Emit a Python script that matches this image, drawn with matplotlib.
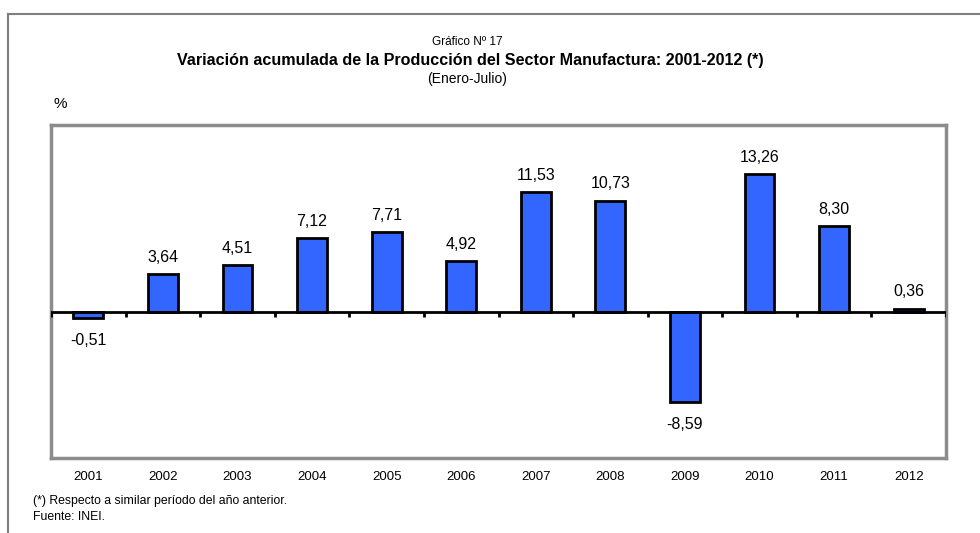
import matplotlib
matplotlib.use("Agg")
import matplotlib.pyplot as plt
from matplotlib.lines import Line2D
import numpy as np

years = ["2001", "2002", "2003", "2004", "2005", "2006",
         "2007", "2008", "2009", "2010", "2011", "2012"]
values = [-0.51, 3.64, 4.51, 7.12, 7.71, 4.92,
          11.53, 10.73, -8.59, 13.26, 8.30, 0.36]
value_labels = ["-0,51", "3,64", "4,51", "7,12", "7,71", "4,92",
                "11,53", "10,73", "-8,59", "13,26", "8,30", "0,36"]

NARROW = ["Liberation Sans Narrow", "Liberation Sans", "DejaVu Sans"]
REG = ["Liberation Sans", "DejaVu Sans"]
BAR_COLOR = "#3366ff"
W, H = 980, 533

fig = plt.figure(figsize=(9.8, 5.33), dpi=100)
ax = fig.add_axes([51 / W, 1 - 458 / H, (946 - 51) / W, (458 - 125) / H])

x = np.arange(len(years))
ax.bar(x, values, width=0.4, color=BAR_COLOR, edgecolor="black", linewidth=2, zorder=3)
ax.set_xlim(-0.5, len(years) - 0.5)
ax.set_ylim(-14, 18)

# zero line and category ticks on it
ax.axhline(0, color="black", linewidth=2, zorder=4)
for b in np.arange(-0.5, len(years), 1.0):
    ax.plot([b, b], [0, -0.45], color="black", linewidth=2, zorder=4, solid_capstyle="butt")

for xi, v, lab in zip(x, values, value_labels):
    if v >= 0:
        ax.text(xi, v + 0.9, lab, ha="center", va="bottom", fontsize=11.5, family=REG)
    else:
        ax.text(xi, v - 1.5, lab, ha="center", va="top", fontsize=11.5, family=REG)

ax.set_yticks([])
ax.set_xticks([])
for s in ax.spines.values():
    s.set_color("#8c8c8c")
    s.set_linewidth(2.5)

# year labels under the plot area
for xi, yr in zip(x, years):
    ax.text(xi, -15.8, yr, ha="center", va="center", fontsize=9.5, family=REG)

# titles
fig.text(467 / W, 1 - 42 / H, "Gráfico Nº 17", ha="center", va="center", fontsize=8.5, family=NARROW)
fig.text(470 / W, 1 - 61 / H, "Variación acumulada de la Producción del Sector Manufactura: 2001-2012 (*)",
         ha="center", va="center", fontsize=11.6, fontweight="bold", family=NARROW)
fig.text(467 / W, 1 - 79 / H, "(Enero-Julio)", ha="center", va="center", fontsize=10, family=NARROW)
fig.text(53 / W, 1 - 104 / H, "%", ha="left", va="center", fontsize=11, family=REG)

# footnotes
fig.text(33 / W, 1 - 501 / H, "(*) Respecto a similar período del año anterior.", ha="left", va="center",
         fontsize=8.8, family=NARROW)
fig.text(33 / W, 1 - 517 / H, "Fuente: INEI.", ha="left", va="center", fontsize=8.8, family=NARROW)

# outer frame
fig.add_artist(Line2D([8 / W, 1], [1 - 14 / H, 1 - 14 / H], color="#7f7f7f", linewidth=1.5,
                      transform=fig.transFigure))
fig.add_artist(Line2D([8 / W, 8 / W], [0, 1 - 14 / H], color="#7f7f7f", linewidth=1.5,
                      transform=fig.transFigure))

fig.savefig("out.png", dpi=100)
